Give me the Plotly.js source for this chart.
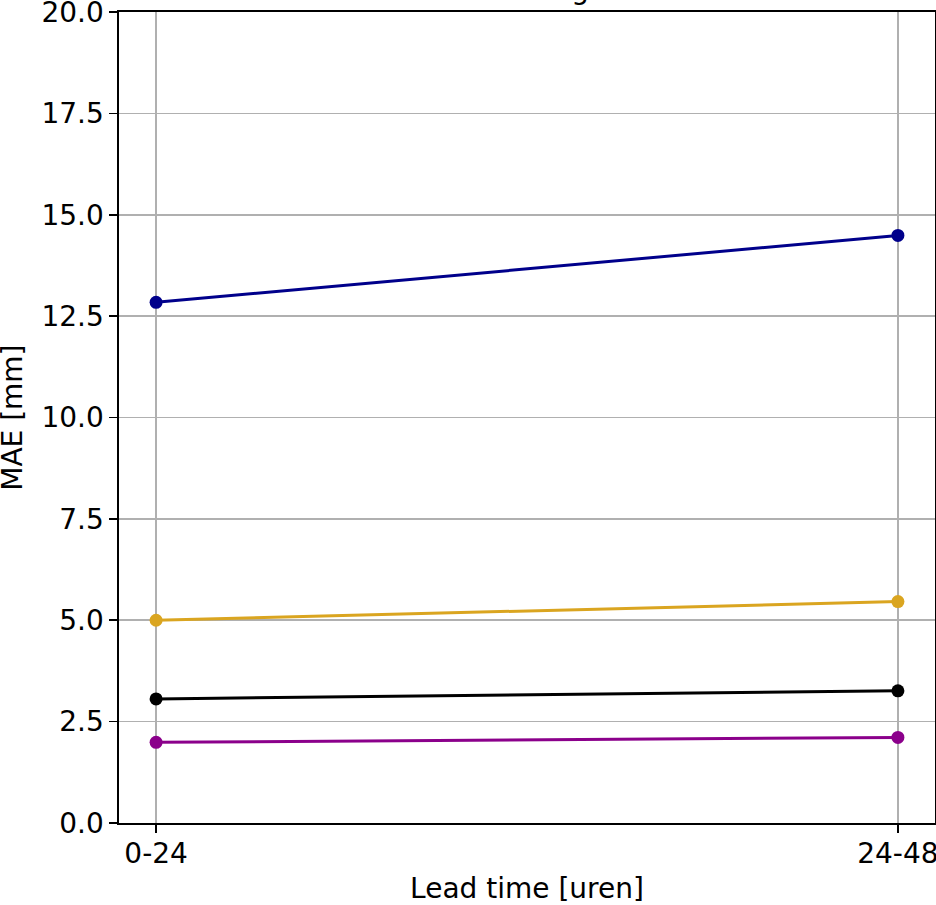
<!DOCTYPE html>
<html>
<head>
<meta charset="utf-8">
<script src="https://cdn.plot.ly/plotly-3.0.1.min.js"></script>
<style>html,body{margin:0;padding:0;background:#fff;}#chart{width:936px;height:905px;}</style>
</head>
<body>
<div id="chart"></div>
<script>
const leadTimes = ["0-24", "24-48"];
const seriesNames = ["Serie 1", "Serie 2", "Serie 3", "Serie 4"];
const serie1 = [12.84, 14.49];
const serie2 = [5.00, 5.46];
const serie3 = [3.06, 3.26];
const serie4 = [1.99, 2.11];
const seriesColors = ["#00008b", "#daa520", "#000000", "#8b008b"];
const yTicks = [0, 2.5, 5, 7.5, 10, 12.5, 15, 17.5, 20];

const allSeries = [serie1, serie2, serie3, serie4];
const traces = allSeries.map((vals, i) => ({
  x: leadTimes,
  y: vals,
  name: seriesNames[i],
  type: "scatter",
  mode: "lines+markers",
  line: {color: seriesColors[i], width: 3},
  marker: {color: seriesColors[i], size: 13},
  showlegend: false
}));

const fontFam = "DejaVu Sans, sans-serif";
const layout = {
  width: 936,
  height: 905,
  margin: {l: 119, r: 1, t: 12, b: 82},
  paper_bgcolor: "#ffffff",
  plot_bgcolor: "#ffffff",
  font: {family: fontFam, size: 28, color: "#000"},
  title: {
    text: "Neerslag",
    font: {family: fontFam, size: 28, color: "#000"},
    xref: "paper", x: 0.5, xanchor: "center",
    yref: "container", y: 1, yanchor: "bottom",
    pad: {t: 0, b: 1}
  },
  xaxis: {
    type: "category",
    range: [-0.05, 1.05],
    showgrid: true, gridcolor: "#b0b0b0", gridwidth: 1.6,
    showline: true, linecolor: "#000", linewidth: 1.6, mirror: true,
    ticks: "outside", ticklen: 8, tickwidth: 1.6, tickcolor: "#000",
    ticklabelstandoff: -3,
    ticklabeloverflow: "allow",
    tickfont: {family: fontFam, size: 28, color: "#000"},
    title: {text: "Lead time [uren]", font: {family: fontFam, size: 28, color: "#000"}, standoff: 10},
    zeroline: false, automargin: false, fixedrange: true
  },
  yaxis: {
    range: [0, 20.0005],
    tickvals: yTicks,
    ticktext: yTicks.map(v => v.toFixed(1)),
    showgrid: true, gridcolor: "#b0b0b0", gridwidth: 1.6,
    showline: true, linecolor: "#000", linewidth: 1.6, mirror: true,
    ticks: "outside", ticklen: 8, tickwidth: 1.6, tickcolor: "#000",
    ticklabelstandoff: 0,
    ticklabeloverflow: "allow",
    tickfont: {family: fontFam, size: 28, color: "#000"},
    zeroline: false, automargin: false, fixedrange: true
  },
  annotations: [{
    text: "MAE [mm]",
    textangle: -90,
    xref: "paper", x: -0.1308, xanchor: "center",
    yref: "paper", y: 0.5, yanchor: "middle",
    showarrow: false,
    font: {family: fontFam, size: 28, color: "#000"}
  }]
};

Plotly.newPlot("chart", traces, layout, {displayModeBar: false, staticPlot: true});
</script>
</body>
</html>
